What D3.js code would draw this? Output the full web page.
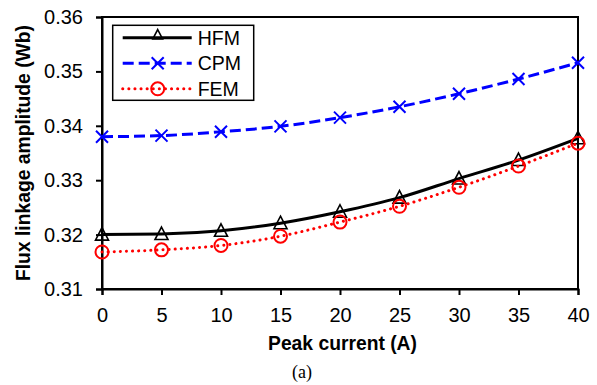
<!DOCTYPE html>
<html>
<head>
<meta charset="utf-8">
<script src="https://cdn.jsdelivr.net/npm/d3@7"></script>
<style>
  body { margin: 0; background: #fff; }
</style>
</head>
<body>
<div id="chart"></div>
<script>
const current = [0, 5, 10, 15, 20, 25, 30, 35, 40];
const hfm = [0.3200, 0.3201, 0.3207, 0.3221, 0.3242, 0.3268, 0.3303, 0.3337, 0.3377];
const cpm = [0.3380, 0.3382, 0.3389, 0.3399, 0.3415, 0.3435, 0.3459, 0.3486, 0.3516];
const fem = [0.3168, 0.3172, 0.3180, 0.3197, 0.3223, 0.3252, 0.3287, 0.3326, 0.3368];
const xTicks = [0, 5, 10, 15, 20, 25, 30, 35, 40];
const yTicks = [0.31, 0.32, 0.33, 0.34, 0.35, 0.36];

const W = 597, H = 385;
const margin = { top: 17, right: 19, bottom: 96, left: 102 };
const width = W - margin.left - margin.right;
const height = H - margin.top - margin.bottom;
const sans = 'Arial, "Liberation Sans", sans-serif';

const svg = d3.select('#chart').append('svg')
  .attr('width', W).attr('height', H)
  .attr('font-family', sans);
const g = svg.append('g')
  .attr('transform', `translate(${margin.left},${margin.top})`);

const x = d3.scaleLinear().domain([0, 40]).range([0, width]);
const y = d3.scaleLinear().domain([0.31, 0.36]).range([height, 0]);

// frame
g.append('rect').attr('width', width).attr('height', height)
  .attr('fill', 'none').attr('stroke', '#000').attr('stroke-width', 2);

const xAxis = g.append('g').attr('transform', `translate(0,${height})`)
  .call(d3.axisBottom(x).tickValues(xTicks).tickSize(6).tickPadding(13).tickFormat(d3.format('d')));
const yAxis = g.append('g')
  .call(d3.axisLeft(y).tickValues(yTicks).tickSize(6).tickPadding(13).tickFormat(d3.format('.2f')));
[xAxis, yAxis].forEach(a => {
  a.attr('font-family', sans).attr('font-size', 20);
  a.select('.domain').attr('stroke-width', 2);
  a.selectAll('.tick line').attr('stroke-width', 2);
  a.selectAll('.tick text').attr('fill', '#000');
});

const series = [
  { name: 'HFM', values: hfm, color: '#000', dash: null, cap: 'butt', marker: 'tri' },
  { name: 'CPM', values: cpm, color: '#0000ff', dash: '11,5', cap: 'butt', marker: 'x' },
  { name: 'FEM', values: fem, color: '#ff0000', dash: '0.1,6', cap: 'round', marker: 'circ' }
];

const line = d3.line().curve(d3.curveMonotoneX)
  .x((d, i) => x(current[i])).y(d => y(d));

function drawMarker(sel, type, color, s) {
  if (type === 'tri') {
    sel.append('path').attr('d', `M0,${-7 * s}L${6.5 * s},${5.5 * s}L${-6.5 * s},${5.5 * s}Z`)
      .attr('fill', 'none').attr('stroke', color).attr('stroke-width', 1.6);
  } else if (type === 'x') {
    sel.append('path').attr('d', 'M-6,-6L6,6M-6,6L6,-6')
      .attr('stroke', color).attr('stroke-width', 2);
  } else {
    sel.append('circle').attr('r', 6.5)
      .attr('fill', 'none').attr('stroke', color).attr('stroke-width', 2);
  }
}

series.forEach(s => {
  g.append('path').datum(s.values).attr('d', line)
    .attr('fill', 'none').attr('stroke', s.color).attr('stroke-width', 3)
    .attr('stroke-dasharray', s.dash).attr('stroke-linecap', s.cap);
  s.values.forEach((v, i) => {
    const m = g.append('g').attr('transform', `translate(${x(current[i])},${y(v)})`);
    drawMarker(m, s.marker, s.color, 1);
  });
});

// legend
const lg = g.append('g').attr('transform', 'translate(10.7,8.3)');
lg.append('rect').attr('width', 141).attr('height', 75)
  .attr('fill', '#fff').attr('stroke', '#000').attr('stroke-width', 1.5);
series.forEach((s, i) => {
  const yy = 12.5 + i * 25.5;
  lg.append('line').attr('x1', 10).attr('x2', 79).attr('y1', yy).attr('y2', yy)
    .attr('stroke', s.color).attr('stroke-width', 3)
    .attr('stroke-dasharray', s.dash).attr('stroke-linecap', s.cap);
  const m = lg.append('g').attr('transform', `translate(45,${s.marker === 'tri' ? yy - 3 : yy})`);
  drawMarker(m, s.marker, s.color, 0.75);
  lg.append('text').attr('x', 85).attr('y', yy + 7).attr('font-size', 19.5).text(s.name);
});

// axis titles
svg.append('text').attr('x', 342.5).attr('y', 350)
  .attr('text-anchor', 'middle').attr('font-size', 19.3).attr('font-weight', 'bold')
  .text('Peak current (A)');
svg.append('text').attr('transform', `translate(29.5,${margin.top + height / 2}) rotate(-90)`)
  .attr('text-anchor', 'middle').attr('font-size', 19.3).attr('font-weight', 'bold')
  .text('Flux linkage amplitude (Wb)');
svg.append('text').attr('x', 302).attr('y', 378)
  .attr('text-anchor', 'middle').attr('font-size', 18)
  .attr('font-family', '"Liberation Serif", "Times New Roman", Times, serif')
  .text('(a)');
</script>
</body>
</html>
